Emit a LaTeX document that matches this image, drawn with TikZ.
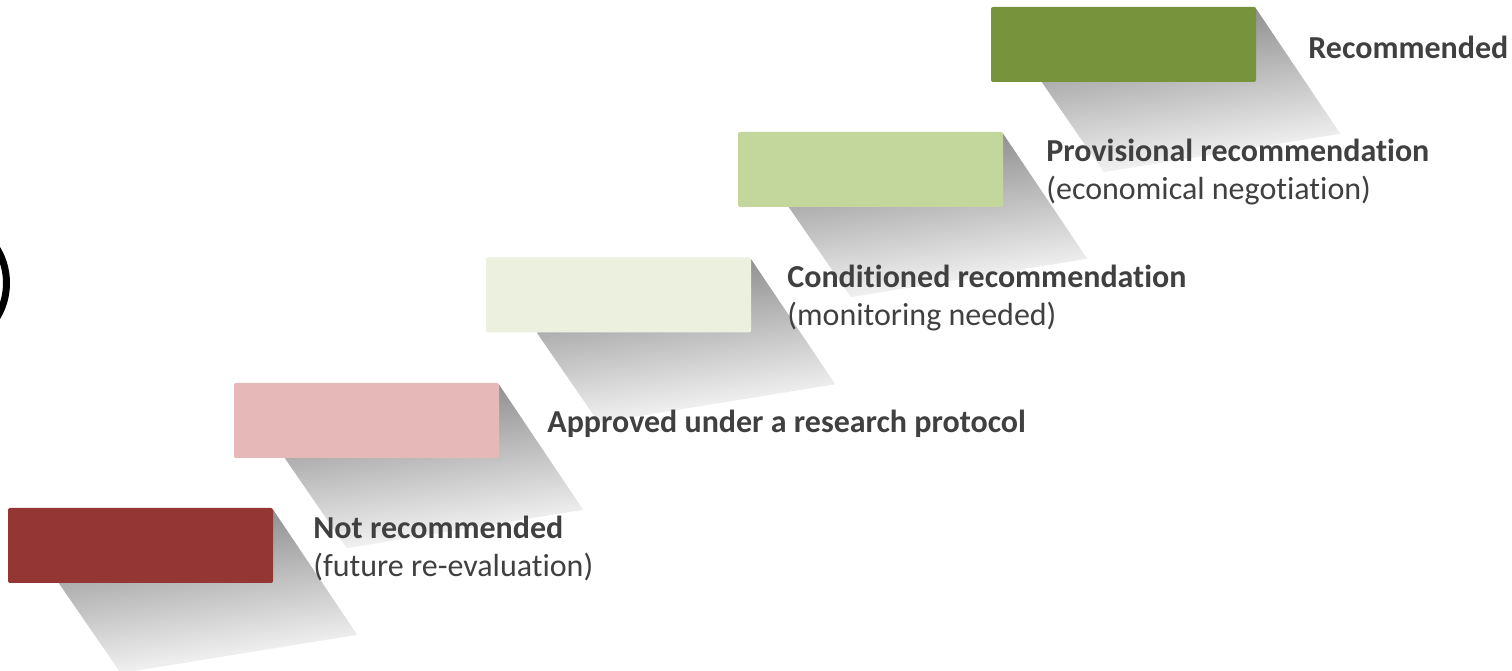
\documentclass[tikz,border=0pt]{standalone}
\usepackage{fontspec}
\setmainfont{Carlito}[Ligatures=NoCommon]
\usetikzlibrary{positioning, backgrounds}

\definecolor{stepred}{HTML}{943634}
\definecolor{steppink}{HTML}{E6B9B8}
\definecolor{steppale}{HTML}{EBF1DE}
\definecolor{steplight}{HTML}{C3D69B}
\definecolor{stepolive}{HTML}{77933C}
\definecolor{textgray}{HTML}{404040}

\tikzstyle{stair} = [
    rectangle,
    rounded corners=2pt,
    minimum width=265pt,
    minimum height=75pt,
    inner sep=0pt
]
\tikzstyle{steptext} = [
    inner sep=0pt,
    yshift=-3pt,
    align=left,
    text=textgray,
    font=\fontsize{32}{38}\selectfont
]
\tikzstyle{longshadow} = [
    top color=black!48,
    bottom color=white,
    shading angle=8
]

\begin{document}
\begin{tikzpicture}[x=1pt, y=1pt]

\useasboundingbox (0,0) rectangle (1512,671);
\clip (0,0) rectangle (1512,671);

% the five steps, bottom to top
\node (notrec) [stair, fill=stepred] at (140.5,125.5) {};
\node (research) [stair, fill=steppink] at (366.5,250.5) {};
\node (conditioned) [stair, fill=steppale] at (618.5,376) {};
\node (provisional) [stair, fill=steplight] at (870.5,501.5) {};
\node (recommended) [stair, fill=stepolive] at (1123.5,626.5) {};

\node (t1) [steptext, right=40pt of notrec]
{\textbf{Not recommended}\\(future re-evaluation)};

\node (t2) [steptext, right=48pt of research]
{\textbf{Approved under a research protocol}};

\node (t3) [steptext, right=36pt of conditioned]
{\textbf{Conditioned recommendation}\\(monitoring needed)};

\node (t4) [steptext, right=43pt of provisional]
{\textbf{Provisional recommendation}\\(economical negotiation)};

\node (t5) [steptext, right=52pt of recommended]
{\textbf{Recommended}};

% long shadows behind every step
\begin{pgfonlayer}{background}
\foreach \s in {notrec, research, conditioned, provisional, recommended}
    \shade [longshadow] ([yshift=-2pt]\s.north east)
        -- ([shift={(84pt,-127pt)}]\s.north east)
        -- ([shift={(113pt,-90pt)}]\s.south west)
        -- ([xshift=51pt]\s.south west) -- cycle;
\end{pgfonlayer}

% ring cut off by the left border
\draw [line width=7pt] (-60,388) circle (66.5);

\end{tikzpicture}
\end{document}
